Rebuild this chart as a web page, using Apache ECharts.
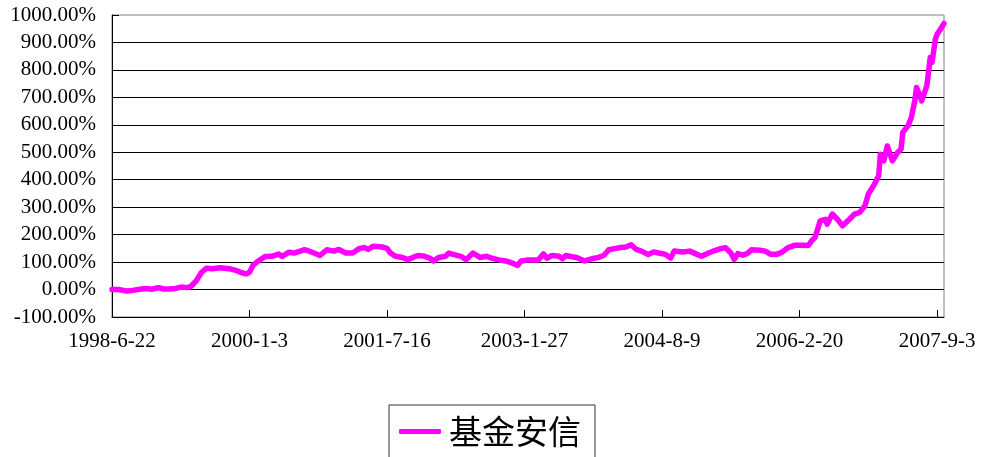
<!DOCTYPE html>
<html>
<head>
<meta charset="utf-8">
<style>
html,body{margin:0;padding:0;background:#fff;}
#chart{width:984px;height:457px;}
</style>
<script src="https://cdn.jsdelivr.net/npm/echarts@6/dist/echarts.min.js"></script>
</head>
<body>
<div id="chart"></div>
<script>
// week index counted from 1998-6-22 (weekly data)
const weeks = [0,4,8,12,16,20,23,27,30,33,37,40,44,46,49,52,55,58,63,68,72,75,78,80,82,85,89,93,97,99,103,106,112,116,121,125,129,132,136,140,144,147,149,152,157,160,162,165,169,172,175,178,182,185,187,190,194,196,199,203,206,210,214,218,221,225,229,233,236,238,242,248,251,253,256,260,262,264,270,272,275,279,283,286,289,293,296,299,302,305,308,312,315,318,322,325,327,332,336,340,343,347,351,354,357,360,362,364,367,370,372,377,380,383,387,390,393,397,402,405,407,409,412,415,416,419,422,425,429,432,435,438,440,443,446,447,449,451,454,457,459,460,463,465,467,468,470,471,474,476,477,479,480,482,484];
// cumulative return, %
const values = [0,0,-5,-3,1,4,1,7,2,2,4,9,7,12,32,62,78,76,79,76,70,62,57,63,88,104,120,121,129,121,136,133,145,137,124,145,140,146,133,133,150,153,146,158,155,150,133,121,117,109,117,124,121,114,104,117,121,133,127,121,109,133,117,121,114,108,104,96,88,104,108,108,130,114,124,121,112,124,117,112,104,112,117,124,145,150,153,155,163,146,140,127,137,133,128,115,140,137,140,129,121,133,143,149,152,133,110,131,125,133,145,143,140,129,129,137,152,161,161,160,177,190,250,256,238,275,256,232,256,275,281,305,348,378,414,493,469,523,469,499,511,572,596,627,687,736,706,687,742,845,827,912,930,949,969];
const tickLabels = ['1998-6-22','2000-1-3','2001-7-16','2003-1-27','2004-8-9','2006-2-20','2007-9-3'];
const yTicks = [-100,0,100,200,300,400,500,600,700,800,900,1000];
const seriesName = '基金安信';

const chart = echarts.init(document.getElementById('chart'));
const serif = 'Liberation Serif';
chart.setOption({
  animation: false,
  backgroundColor: '#fff',
  grid: {
    left: 112, top: 15, width: 832, height: 302,
    show: true, borderColor: '#808080', borderWidth: 1, backgroundColor: 'transparent'
  },
  legend: {
    data: [seriesName],
    left: 389, top: 405,
    orient: 'horizontal',
    borderColor: '#333', borderWidth: 1,
    padding: [10, 14, 20, 10],
    icon: 'roundRect',
    itemWidth: 42, itemHeight: 5,
    itemStyle: { color: '#FF00FF', borderWidth: 0 },
    textStyle: { fontSize: 33, fontFamily: 'Noto Sans CJK SC', color: '#000', padding: [0, 0, 0, 3] }
  },
  xAxis: {
    type: 'value',
    min: 0, max: 484, interval: 80,
    axisLine: { show: true, onZero: false, lineStyle: { color: '#000', width: 1 } },
    axisTick: { show: true, inside: true, length: 7, lineStyle: { color: '#000' } },
    axisLabel: {
      margin: 14, fontFamily: serif, fontSize: 21, color: '#000',
      showMaxLabel: false,
      formatter: v => (v % 80 === 0 ? tickLabels[v / 80] : '')
    },
    splitLine: { show: false }
  },
  yAxis: {
    type: 'value',
    min: yTicks[0], max: yTicks[yTicks.length - 1], interval: 100,
    axisLine: { show: true, onZero: false, lineStyle: { color: '#000', width: 1 } },
    axisTick: { show: true, inside: true, length: 7, lineStyle: { color: '#000' } },
    axisLabel: {
      margin: 16, fontFamily: serif, fontSize: 21, color: '#000',
      formatter: v => v.toFixed(2) + '%'
    },
    splitLine: { show: true, showMaxLine: false, lineStyle: { color: '#000', width: 1 } }
  },
  series: [{
    name: seriesName,
    type: 'line',
    data: weeks.map((w, i) => [w, values[i]]),
    symbol: 'none',
    showSymbol: false,
    lineStyle: { color: '#FF00FF', width: 5.5, cap: 'round', join: 'round' },
    itemStyle: { color: '#FF00FF' }
  }]
});
</script>
</body>
</html>
